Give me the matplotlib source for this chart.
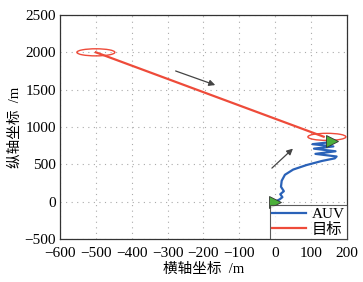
import numpy as np
import matplotlib.pyplot as plt
from matplotlib.patches import Ellipse

plt.rcParams['font.family'] = ['Liberation Serif', 'Noto Sans CJK SC']
plt.rcParams['axes.unicode_minus'] = True

# 目标轨迹 (起点 -> 终点)
target_x = [-500, 135]
target_y = [2000, 870]

# AUV 轨迹
auv_x = [0, 12, 20, 14, 24, 16, 18, 27, 50, 87, 130, 166, 171, 112, 168,
         108, 162, 104, 150, 157]
auv_y = [0, 30, 60, 100, 140, 200, 280, 360, 430, 490, 545, 580, 605, 640,
         675, 710, 740, 770, 795, 817]

# 目标圆圈中心
circle_x = [-500, 144]
circle_y = [2000, 868]

xticks = list(range(-600, 201, 100))
yticks = list(range(-500, 2501, 500))

fig = plt.figure(figsize=(3.63, 2.82), dpi=100)
ax = fig.add_axes([0.1653, 0.1525, 0.7906, 0.7943])

ax.plot(auv_x, auv_y, color='#2a62b8', lw=1.6, label='AUV', zorder=3)
ax.plot(target_x, target_y, color='#ee4b3a', lw=1.6, label='目标', zorder=3)

for cx, cy in zip(circle_x, circle_y):
    ax.add_patch(Ellipse((cx, cy), 106, 95, fill=False, ec='#ee4b3a', lw=1.0, zorder=4))

# 起点和终点三角形
ax.plot([auv_x[0], auv_x[-1]], [auv_y[0], auv_y[-1]], linestyle='none', marker='>',
        ms=9, mfc='#4caf3a', mec='#333333', mew=0.6, zorder=5)

# 方向箭头
arrow_kw = dict(arrowstyle='-|>', color='#444444', lw=0.9, mutation_scale=9)
ax.annotate('', xy=(-160, 1549), xytext=(-285, 1763), arrowprops=arrow_kw)
ax.annotate('', xy=(55, 736), xytext=(-15, 424), arrowprops=arrow_kw)

ax.set_xlim(-600, 200)
ax.set_ylim(-500, 2500)
ax.set_xticks(xticks)
ax.set_yticks(yticks)
ax.tick_params(labelsize=11, length=0)
ax.tick_params(axis='x', pad=6)
ax.tick_params(axis='y', pad=3)
ax.grid(True, linestyle=(0, (1, 4)), color='#aaaaaa', lw=0.8)

for s in ['top', 'right', 'left', 'bottom']:
    ax.spines[s].set_color('#333333')
    ax.spines[s].set_linewidth(0.9)

ax.set_xlabel('横轴坐标  /m', fontsize=10.5, labelpad=2)
ax.set_ylabel('纵轴坐标  /m', fontsize=10.5, labelpad=2)

leg = ax.legend(loc='lower right', fontsize=11, frameon=True, fancybox=False,
                borderaxespad=0, handlelength=2.2, handletextpad=0.4,
                borderpad=0.15, labelspacing=0.1)
leg.get_frame().set_edgecolor('#333333')
leg.get_frame().set_linewidth(0.8)

fig.savefig('out.png', dpi=100)
